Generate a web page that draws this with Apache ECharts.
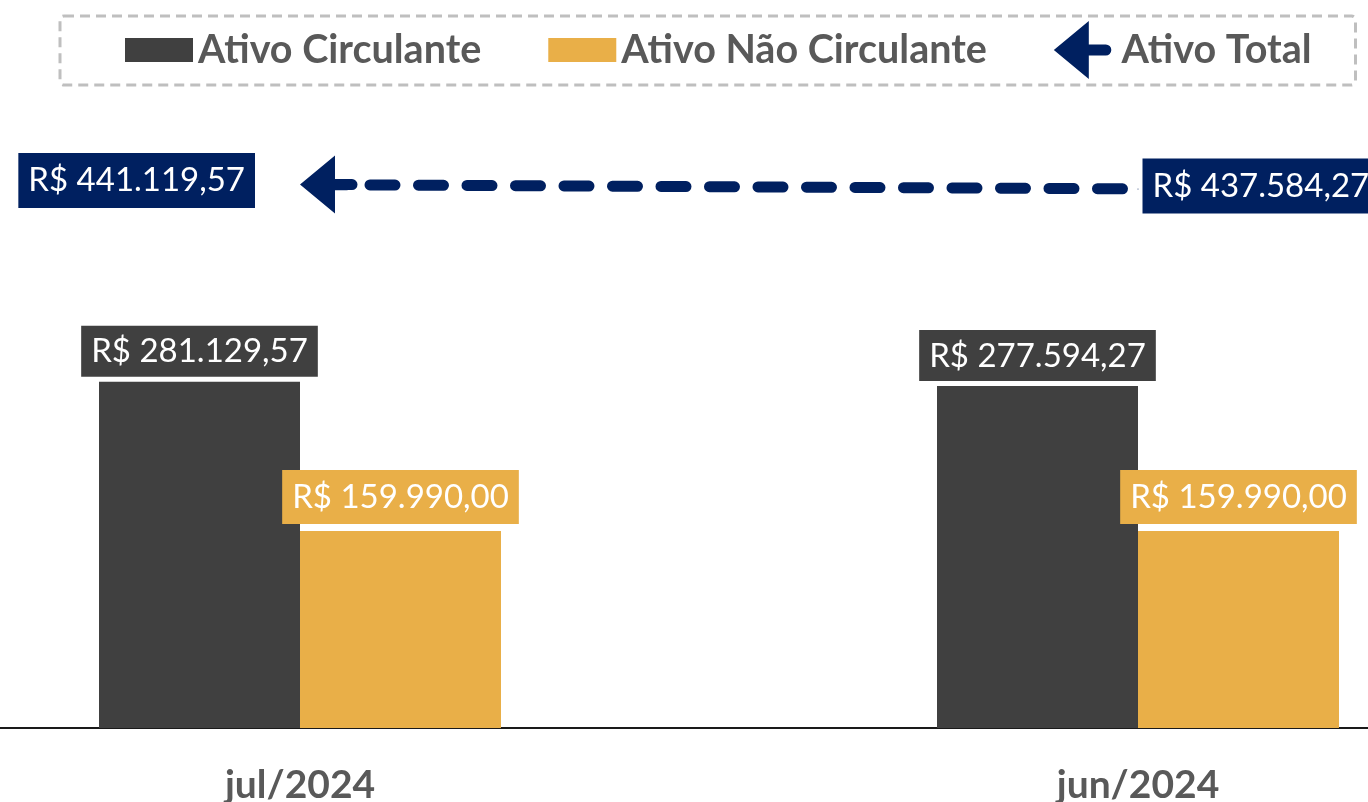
<!DOCTYPE html>
<html>
<head>
<meta charset="utf-8">
<script src="https://cdn.jsdelivr.net/npm/echarts@6/dist/echarts.min.js"></script>
<style>
  html, body { margin: 0; padding: 0; background: #fff; }
  #chart { width: 1368px; height: 802px; }
</style>
</head>
<body>
<div id="chart"></div>
<script>
var months = ['jul/2024', 'jun/2024'];
var ativoCirculante = [281129.57, 277594.27];
var ativoNaoCirculante = [159990.00, 159990.00];
var ativoTotal = [441119.57, 437584.27];

const grey = '#404040';
const gold = '#E9AF48';
const navy = '#002060';
const font = 'Lato';

// seta do total (ponta a esquerda)
var arrowPath = 'path://M0,29 L35,0 L35,23.5 L52,23.5 A5.5,5.5 0 0 1 52,34.5 L35,34.5 L35,58 Z';
// retangulo da legenda com a mesma altura da seta
var rectPath = 'path://M0,0 M0,17 L68,17 L68,41 L0,41 Z M68,58';

function brl(v) {
  var parts = v.toFixed(2).split('.');
  var inteiro = parts[0].replace(/\B(?=(\d{3})+(?!\d))/g, '.');
  return 'R$ ' + inteiro + ',' + parts[1];
}

var myChart = echarts.init(document.getElementById('chart'), null, {renderer: 'canvas'});

var option = {
  animation: false,
  legend: {
    left: 60,
    top: 16,
    padding: [5, 44, 6, 65],
    itemWidth: 68,
    itemHeight: 58,
    itemGap: 67,
    borderColor: '#BFBFBF',
    borderWidth: 3,
    borderType: [10, 6],
    borderRadius: 4,
    textStyle: { fontFamily: font, fontWeight: 'bold', fontSize: 39.5, color: '#595959' },
    data: [
      { name: 'Ativo Circulante', icon: rectPath },
      { name: 'Ativo Não Circulante', icon: rectPath },
      { name: 'Ativo Total', icon: arrowPath }
    ]
  },
  grid: { left: -119, right: -189, top: 112, bottom: 74, outerBoundsMode: 'none' },
  xAxis: {
    type: 'category',
    data: months,
    axisTick: { show: false },
    axisLine: { lineStyle: { color: '#1a1a1a', width: 2 } },
    axisLabel: { fontFamily: font, fontWeight: 'bold', fontSize: 39, color: '#595959', margin: 38 }
  },
  yAxis: {
    type: 'value',
    min: 0,
    max: 500000,
    show: false,
    splitLine: { show: false }
  },
  series: [
    {
      name: 'Ativo Circulante',
      type: 'bar',
      data: ativoCirculante,
      barWidth: 201,
      barGap: '0%',
      itemStyle: { color: grey },
      label: {
        show: true, position: 'top', distance: 5,
        formatter: function (p) { return brl(p.value); },
        fontFamily: font, fontSize: 33, color: '#fff',
        backgroundColor: grey, padding: [7, 10, 6, 10], lineHeight: 38
      }
    },
    {
      name: 'Ativo Não Circulante',
      type: 'bar',
      data: ativoNaoCirculante,
      barWidth: 201,
      itemStyle: { color: gold },
      label: {
        show: true, position: 'top', distance: 7,
        formatter: function (p) { return brl(p.value); },
        fontFamily: font, fontSize: 33, color: '#fff',
        backgroundColor: gold, padding: [8, 10, 8, 10], lineHeight: 38
      }
    },
    {
      name: 'Ativo Total',
      type: 'line',
      data: [
        { value: ativoTotal[0], symbol: arrowPath, symbolSize: [57.5, 58], symbolOffset: [28.75, 0],
          label: { position: 'left', distance: 45, offset: [0, -4] } },
        { value: ativoTotal[1], symbol: 'circle', symbolSize: 1,
          label: { position: 'right', distance: 4, offset: [0, -3] } }
      ],
      itemStyle: { color: navy },
      lineStyle: { color: navy, width: 11, type: [25, 23.5], dashOffset: 27, cap: 'round' },
      label: {
        show: true,
        formatter: function (p) { return brl(p.value); },
        fontFamily: font, fontSize: 33, color: '#fff',
        backgroundColor: navy, padding: [9, 10, 8, 10], lineHeight: 38
      },
      emphasis: { disabled: true }
    }
  ]
};

myChart.setOption(option);
</script>
</body>
</html>
